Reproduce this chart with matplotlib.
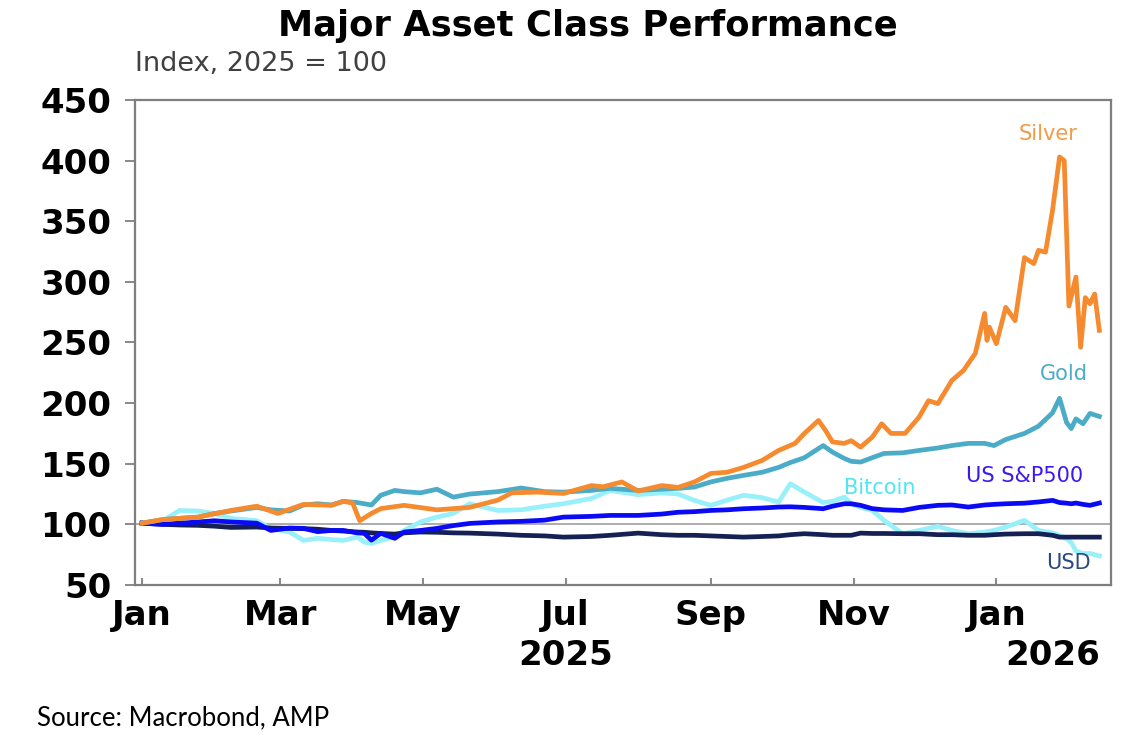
import matplotlib
matplotlib.use("Agg")
import matplotlib.pyplot as plt
import matplotlib.dates as mdates
import matplotlib.transforms as mtransforms
import pandas as pd

# Silver has its own (denser) date grid because of the sharp Jan-2026 spike
silver_dates = [
    "2025-01-01", "2025-01-10", "2025-01-25", "2025-02-08", "2025-02-19", "2025-02-28",
    "2025-03-11", "2025-03-23", "2025-03-28", "2025-04-01", "2025-04-04", "2025-04-09",
    "2025-04-13", "2025-04-23", "2025-05-07", "2025-05-21", "2025-06-02", "2025-06-08",
    "2025-06-19", "2025-06-30", "2025-07-12", "2025-07-17", "2025-07-25", "2025-08-01",
    "2025-08-11", "2025-08-18", "2025-08-25", "2025-09-01", "2025-09-08", "2025-09-15",
    "2025-09-23", "2025-09-30", "2025-10-07", "2025-10-11", "2025-10-17", "2025-10-20",
    "2025-10-23", "2025-10-28", "2025-10-31", "2025-11-04", "2025-11-09", "2025-11-13",
    "2025-11-17", "2025-11-23", "2025-11-29", "2025-12-03", "2025-12-07", "2025-12-13",
    "2025-12-18", "2025-12-23", "2025-12-27", "2025-12-28", "2025-12-29", "2026-01-01",
    "2026-01-05", "2026-01-09", "2026-01-13", "2026-01-17", "2026-01-19", "2026-01-22",
    "2026-01-25", "2026-01-28", "2026-01-30", "2026-02-01", "2026-02-04", "2026-02-06",
    "2026-02-08", "2026-02-10", "2026-02-12", "2026-02-14",
]
silver = [
    101, 104, 106, 111.5, 115, 109,
    116.5, 115.7, 119, 117.6, 103, 109,
    113, 115.7, 112, 114, 120, 126,
    126.6, 125.5, 132, 131, 135, 127.5,
    132, 130.5, 135, 142, 143, 147,
    152.8, 161, 166.8, 175, 185.7, 177.5,
    168, 166.8, 169, 163.7, 172, 183,
    175, 175, 188.5, 202, 199.6, 218.7,
    227, 241, 274, 251.7, 262.7, 249,
    279, 268, 320, 315, 326, 324.5,
    359, 403, 400, 280, 304, 246,
    287, 282, 290, 260,
]

# common date grid for the other four series
dates = [
    "2025-01-01", "2025-01-10", "2025-01-17", "2025-01-25", "2025-02-01", "2025-02-08",
    "2025-02-19", "2025-02-25", "2025-03-05", "2025-03-11", "2025-03-17", "2025-03-23",
    "2025-03-28", "2025-04-03", "2025-04-06", "2025-04-09", "2025-04-13", "2025-04-19",
    "2025-04-23", "2025-04-30", "2025-05-07", "2025-05-14", "2025-05-21", "2025-06-02",
    "2025-06-12", "2025-06-22", "2025-06-30", "2025-07-12", "2025-07-20", "2025-08-01",
    "2025-08-11", "2025-08-18", "2025-08-25", "2025-09-01", "2025-09-08", "2025-09-15",
    "2025-09-23", "2025-09-30", "2025-10-05", "2025-10-11", "2025-10-19", "2025-10-23",
    "2025-10-28", "2025-10-31", "2025-11-04", "2025-11-09", "2025-11-14", "2025-11-22",
    "2025-11-29", "2025-12-07", "2025-12-13", "2025-12-20", "2025-12-27", "2025-12-31",
    "2026-01-05", "2026-01-13", "2026-01-19", "2026-01-25", "2026-01-28", "2026-01-31",
    "2026-02-02", "2026-02-04", "2026-02-07", "2026-02-10", "2026-02-14",
]
gold = [
    101, 104, 105, 106, 109, 111,
    114, 112, 111, 116, 117, 116,
    119, 118, 117, 116, 124, 128,
    127, 126, 129, 122.5, 125, 127,
    130, 127, 126.6, 128, 129.7, 128,
    129, 129.7, 130.8, 135, 138, 140.4,
    143, 147, 151, 155, 165, 159.6,
    154.4, 152, 151.4, 155, 158.5, 159,
    161, 163, 165, 166.8, 166.8, 165,
    170, 175, 181, 192, 204, 184,
    179, 187, 183, 191.5, 189,
]
sp500 = [
    101, 100, 101, 102, 103, 102,
    101, 95, 97, 96.7, 94, 95,
    95, 93, 92.6, 87, 92.6, 88.5,
    93.7, 95, 96.7, 99, 100.8, 102,
    102.5, 103.5, 106, 106.6, 107.4, 107.4,
    108.5, 110, 110.5, 111.5, 112, 112.9,
    113.5, 114.3, 114.5, 114, 112.9, 115,
    117, 117, 115.7, 113, 112, 111.5,
    114, 115.7, 116, 114.3, 116, 116.5,
    117, 117.5, 118.5, 119.8, 118, 117.5,
    117, 117.6, 116.5, 115.7, 117.6,
]
usd = [
    101, 100, 99.5, 99.2, 98.5, 97.5,
    97.8, 97, 96.7, 96.5, 96, 95,
    94.5, 93.7, 93.5, 93, 92.5, 92,
    93, 93.7, 93.5, 93, 92.8, 92,
    91, 90.5, 89.5, 90, 91, 92.8,
    91.5, 91, 91, 90.5, 90, 89.5,
    90, 90.5, 91.5, 92.3, 91.5, 91,
    91, 91, 92.8, 92.5, 92.5, 92.3,
    92.3, 91.5, 91.5, 91, 91, 91.5,
    92, 92.3, 92.3, 91, 89.5, 89.5,
    89.5, 89.5, 89.5, 89.5, 89.5,
]
bitcoin = [
    101.5, 103, 111.5, 111, 109, 105,
    103, 96.7, 93.7, 86.8, 88.5, 87.5,
    86.8, 89.5, 85.4, 84.3, 86.8, 90,
    95, 102, 106, 109, 117, 111.5,
    112, 115, 117, 121.4, 128, 124.5,
    126, 125, 119.8, 115.7, 120, 124,
    122, 118.4, 133.5, 126.6, 118, 119,
    122.5, 117, 114, 111.5, 103.3, 92.3,
    95, 98.4, 95, 92.3, 93.7, 95,
    97.8, 103.3, 95, 93, 91, 88,
    85, 78, 76, 76, 74,
]

series_names = ["Silver", "Gold", "US S&P500", "Bitcoin", "USD"]
line_colors = {
    "Silver": "#f58b2e",
    "Gold": "#4aacc6",
    "US S&P500": "#0a0af5",
    "Bitcoin": "#98f0fa",
    "USD": "#152055",
}
label_colors = {
    "Silver": "#f59a45",
    "Gold": "#4aacc6",
    "US S&P500": "#3a18f0",
    "Bitcoin": "#4fe6f5",
    "USD": "#2c4a82",
}
# where the series names sit (date, value)
label_pos = {
    "Silver": ("2026-01-23", 422),
    "Gold": ("2026-01-30", 224),
    "US S&P500": ("2026-01-13", 140),
    "Bitcoin": ("2025-11-12", 130),
    "USD": ("2026-02-01", 68),
}

plt.rcParams['font.family'] = ['DejaVu Sans']

fig = plt.figure(figsize=(11.42, 7.46), dpi=100)
ax = fig.add_axes([0.1182, 0.2158, 0.8547, 0.6502])

d_common = pd.to_datetime(dates)
d_silver = pd.to_datetime(silver_dates)

ax.axhline(100, color='#a6a6a6', lw=1.3, zorder=1)
ax.plot(d_common, bitcoin, color=line_colors["Bitcoin"], lw=3.4, zorder=2)
ax.plot(d_common, usd, color=line_colors["USD"], lw=3.4, zorder=3)
ax.plot(d_common, sp500, color=line_colors["US S&P500"], lw=3.4, zorder=4)
ax.plot(d_common, gold, color=line_colors["Gold"], lw=3.4, zorder=5)
ax.plot(d_silver, silver, color=line_colors["Silver"], lw=3.4, zorder=6)

for name in series_names:
    dx, vy = label_pos[name]
    ax.text(pd.Timestamp(dx), vy, name, color=label_colors[name], fontsize=15,
            ha='center', va='center', zorder=7)

ax.set_ylim(50, 450)
ax.set_yticks(range(50, 451, 50))
ax.set_xlim(pd.Timestamp("2024-12-29"), pd.Timestamp("2026-02-19"))
ax.xaxis.set_major_locator(mdates.MonthLocator(bymonth=[1, 3, 5, 7, 9, 11]))
ax.xaxis.set_major_formatter(mdates.DateFormatter('%b'))

for side in ['left', 'right', 'top', 'bottom']:
    ax.spines[side].set_color('#7f7f7f')
    ax.spines[side].set_linewidth(1.6)
ax.tick_params(axis='y', direction='out', length=7, width=1.3, color='#7f7f7f',
               pad=10, labelsize=24.5)
ax.tick_params(axis='x', direction='in', length=5, width=1.3, color='#7f7f7f',
               pad=10, labelsize=24.5)
for lbl in ax.get_xticklabels() + ax.get_yticklabels():
    lbl.set_fontweight('bold')

# year labels under the month ticks
trans = mtransforms.blended_transform_factory(ax.transData, ax.transAxes)
ax.text(pd.Timestamp("2025-07-01"), -0.145, "2025", transform=trans, fontsize=24.5,
        fontweight='bold', ha='center', va='center')
ax.text(pd.Timestamp("2026-01-25"), -0.145, "2026", transform=trans, fontsize=24.5,
        fontweight='bold', ha='center', va='center')

fig.text(0.515, 0.965, "Major Asset Class Performance", fontsize=25.5, fontweight='bold',
         ha='center', va='center')
fig.text(0.118, 0.914, "Index, 2025 = 100", fontsize=19.5, color='#404040',
         ha='left', va='center')
fig.text(0.032, 0.038, "Source: Macrobond, AMP", fontsize=18.5, family='Lato',
         ha='left', va='center')

fig.savefig("out.png", dpi=100)
